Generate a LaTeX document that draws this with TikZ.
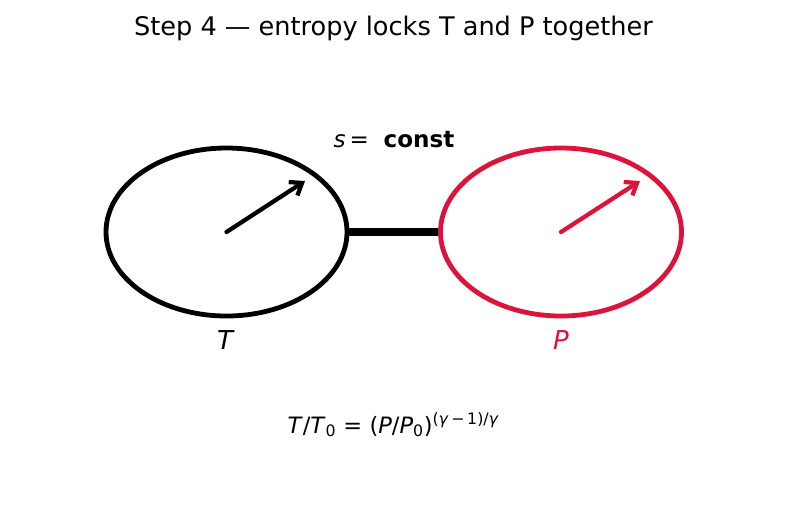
\documentclass[tikz,border=0pt]{standalone}
\usepackage{fontspec}
\setmainfont{DejaVu Sans}
\usepackage{xcolor}
\usetikzlibrary{shapes.geometric, arrows.meta, positioning, calc}
\definecolor{pcolor}{RGB}{220,20,60}

\begin{document}
\begin{tikzpicture}[
    x=0.75pt, y=-0.75pt,
    ring/.style={ellipse, draw, line width=3.6pt, minimum width=180.75pt, minimum height=126pt, inner sep=0pt},
    pointer/.style={line width=3.2pt, line cap=round, line join=round, -{Straight Barb[length=8pt, width=12pt, line width=3.2pt]}},
    link/.style={line width=5.4pt},
    lbl/.style={font=\fontsize{19.5pt}{22pt}\selectfont}
]
\useasboundingbox (0,0) rectangle (787,512);

\node (title) [font=\fontsize{19.2pt}{22pt}\selectfont] at (393.5,28) {Step 4 — entropy locks T and P together};

\node (tdial) [ring] at (226.5,232) {};
\node (pdial) [ring, draw=pcolor] at (561,232) {};

\draw [link] (tdial.east) -- (pdial.west);

\coordinate (ttip) at (305,181);
\coordinate (ptip) at (640,181);
\draw [pointer] (tdial.center) -- (ttip);
\draw [pointer, pcolor] (pdial.center) -- (ptip);

\node (tlabel) [lbl] at (226,340) {\textit{T}};
\node (plabel) [lbl, text=pcolor] at (561,340) {\textit{P}};

\node (entropy) [font=\fontsize{17.3pt}{20pt}\selectfont] at (394,140) {\textit{s}\,=\ \ \textbf{const}};
\node (relation) [font=\fontsize{16.9pt}{20pt}\selectfont] at (393.5,425)
  {\textit{T}/\textit{T}\textsubscript{0} = (\textit{P}/\textit{P}\textsubscript{0})\textsuperscript{(\textit{γ}\,−\,1)/\textit{γ}}};
\end{tikzpicture}
\end{document}
